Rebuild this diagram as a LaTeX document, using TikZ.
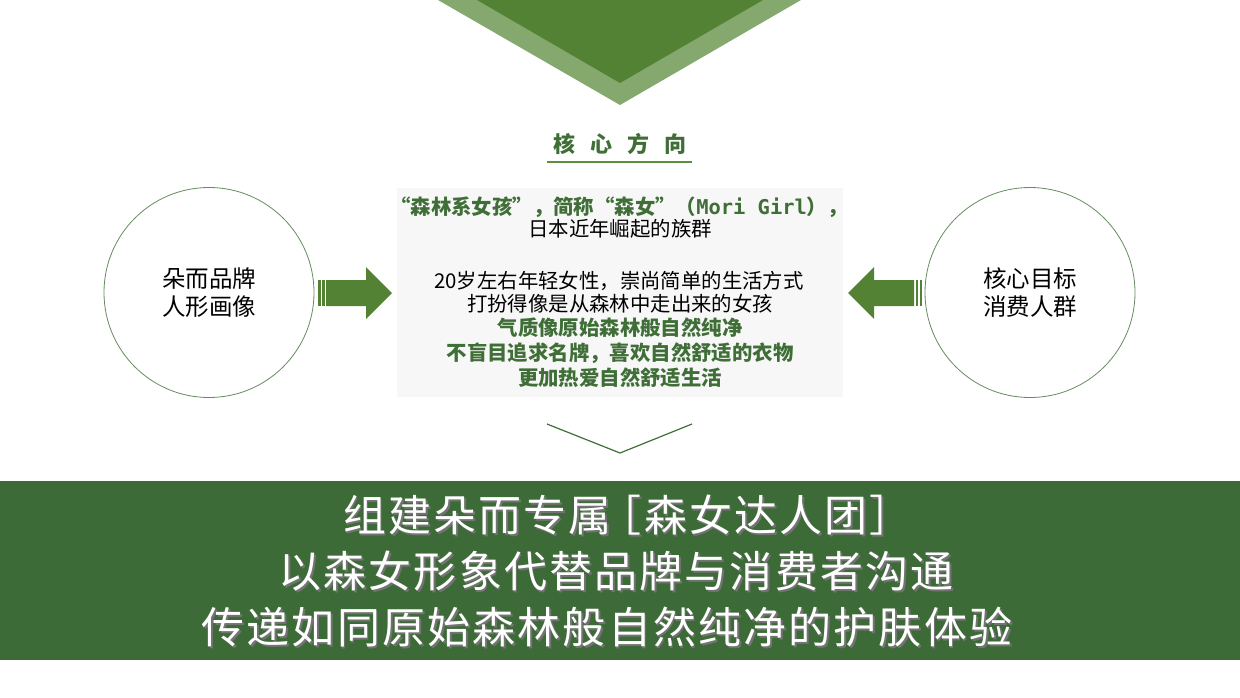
\documentclass[tikz,border=0pt]{standalone}
\usepackage{fontspec}
\newfontfamily\cjk{Noto Sans CJK SC}
\newfontfamily\cjkban[LetterSpace=5]{Noto Sans CJK SC}
\newfontfamily\monolat{DejaVu Sans Mono}
\definecolor{dgreen}{HTML}{3F6E37}
\definecolor{mgreen}{HTML}{548235}
\definecolor{lgreen}{HTML}{85A86F}
\definecolor{bangreen}{HTML}{3D6B37}
\definecolor{boxgray}{HTML}{F7F7F7}
\definecolor{uline}{HTML}{5E8F3A}
\begin{document}
\begin{tikzpicture}[x=1pt,y=-1pt,
  boxline/.style={font=\cjk\fontsize{20.4}{24}\selectfont, text=black, inner sep=0pt},
  greenline/.style={font=\cjk\bfseries\fontsize{20.4}{24}\selectfont, text=dgreen, inner sep=0pt},
  circtext/.style={font=\cjk\fontsize{23.5}{28}\selectfont, align=center, inner sep=0pt},
  bantext/.style={font=\cjkban\fontsize{43}{56}\selectfont, text=white, inner sep=0pt},
  banshadow/.style={font=\cjkban\fontsize{43}{56}\selectfont, text=black!55, inner sep=0pt},
  ring/.style={draw=dgreen!80, line width=0.8pt, circle, minimum size=210pt, inner sep=0pt},
  arrowfill/.style={fill=mgreen, draw=none}]
\useasboundingbox (0,0) rectangle (1240,697);
% top triangle
\fill[lgreen] (438,0) -- (801,0) -- (620,105) -- cycle;
\fill[mgreen] (477,0) -- (763,0) -- (620,83) -- cycle;
% title
\node[font=\cjk\bfseries\fontsize{22}{26}\selectfont, text=dgreen, inner sep=0pt] (title) at (620,144) {核\hspace{15pt}心\hspace{15pt}方\hspace{15pt}向};
\coordinate (ulL) at (547,162);
\coordinate (ulR) at (692,162);
\draw[uline, line width=1.6pt] (ulL) -- (ulR);
% central box
\node[fill=boxgray, minimum width=446pt, minimum height=209pt, inner sep=0pt] (box) at (620,292.5) {};
\node[greenline] (l1) at (619,207) {“森林系女孩”，简称“森女”（{\monolat\bfseries Mori Girl}），};
\node[boxline] (l2) at (620,229) {日本近年崛起的族群};
\node[boxline] (l3) at (619,281) {20岁左右年轻女性，崇尚简单的生活方式};
\node[boxline] (l4) at (620,304) {打扮得像是从森林中走出来的女孩};
\node[greenline] (l5) at (620,328) {气质像原始森林般自然纯净};
\node[greenline] (l6) at (620,353) {不盲目追求名牌，喜欢自然舒适的衣物};
\node[greenline] (l7) at (620,378) {更加热爱自然舒适生活};
% circles
\node[ring] (cl) at (209,292.5) {};
\node[circtext] (clt) at (209,293) {朵而品牌\\人形画像};
\node[ring] (cr) at (1030,292.5) {};
\node[circtext] (crt) at (1030,293) {核心目标\\消费人群};
% left arrow
\fill[arrowfill] (318,280) rectangle (320.5,306);
\fill[arrowfill] (322,280) rectangle (324.5,306);
\fill[arrowfill] (326,280) -- (366,280) -- (366,267) -- (392,293) -- (366,319) -- (366,306) -- (326,306) -- cycle;
% right arrow
\fill[arrowfill] (922,280) rectangle (919.5,306);
\fill[arrowfill] (918,280) rectangle (915.5,306);
\fill[arrowfill] (914,280) -- (874,280) -- (874,267) -- (848,293) -- (874,319) -- (874,306) -- (914,306) -- cycle;
% chevron
\coordinate (chL) at (547,424);
\coordinate (chM) at (620,453);
\coordinate (chR) at (692,424);
\draw[dgreen, line width=1.2pt] (chL) -- (chM) -- (chR);
% banner
\fill[bangreen] (0,481) rectangle (1240,660);
\node[banshadow] at (629.8,516.8) {组建朵而专属\hspace{-13pt}［森女达人团］};
\node[banshadow] at (617.8,572.8) {以森女形象代替品牌与消费者沟通};
\node[banshadow] at (608.8,628.8) {传递如同原始森林般自然纯净的护肤体验};
\node[bantext] (b1) at (628,515) {组建朵而专属\hspace{-13pt}［森女达人团］};
\node[bantext] (b2) at (616,571) {以森女形象代替品牌与消费者沟通};
\node[bantext] (b3) at (607,627) {传递如同原始森林般自然纯净的护肤体验};
\end{tikzpicture}
\end{document}
